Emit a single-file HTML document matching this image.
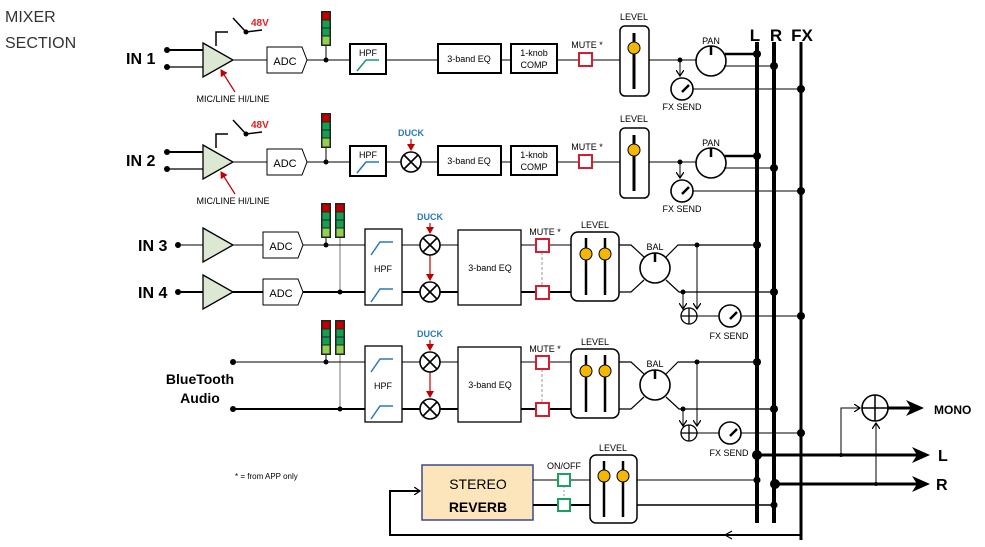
<!DOCTYPE html>
<html><head><meta charset="utf-8"><style>
html,body{margin:0;padding:0;background:#fff;}
svg{display:block;}
text{font-family:"Liberation Sans",sans-serif;}
</style></head><body>
<svg width="985" height="547" viewBox="0 0 985 547" xmlns="http://www.w3.org/2000/svg">
<defs>
<marker id="ah" markerWidth="8" markerHeight="8" refX="6" refY="4" orient="auto" markerUnits="userSpaceOnUse"><path d="M0,0 L6,4 L0,8" fill="none" stroke="#000" stroke-width="1.3"/></marker>
<marker id="ar" markerWidth="8" markerHeight="8" refX="6" refY="4" orient="auto" markerUnits="userSpaceOnUse"><path d="M0,0 L7,4 L0,8 Z" fill="#c00000"/></marker>
<g id="meter"><rect x="0" y="0" width="10" height="35" fill="#222"/><rect x="1.5" y="1.5" width="7" height="7" fill="#c00000"/><rect x="1.5" y="9.5" width="7" height="7" fill="#14a050"/><rect x="1.5" y="17.5" width="7" height="7" fill="#14a050"/><rect x="1.5" y="25.5" width="7" height="8" fill="#92d050"/></g>
<g id="mult"><circle r="10" fill="#fff" stroke="#000" stroke-width="1.6"/><path d="M-7,-7 L7,7 M7,-7 L-7,7" stroke="#000" stroke-width="1.6"/></g>
<g id="sum"><circle r="8" fill="#fff" stroke="#000" stroke-width="1.3"/><path d="M-8,0 H8 M0,-8 V8" stroke="#000" stroke-width="1.3"/></g>
<g id="fxk"><circle r="11" fill="#fff" stroke="#000" stroke-width="1.6"/><path d="M0,3 L7,-4" stroke="#000" stroke-width="2.5"/></g>
<g id="tri"><path d="M0,0 L30,17 L0,34 Z" fill="#dde8d3" stroke="#000" stroke-width="1.3"/></g>
<g id="adc"><path d="M0,0 H35 L40,13 L35,26 H0 Z" fill="#fff" stroke="#000" stroke-width="1"/><text x="18" y="18" font-size="11" text-anchor="middle">ADC</text></g>
</defs>

<g fill="#333" font-size="16"><text x="5" y="22">MIXER</text><text x="5" y="48">SECTION</text></g>

<!-- buses -->
<g stroke="#000" fill="none">
<line x1="757" y1="42" x2="757" y2="523" stroke-width="4"/>
<line x1="774" y1="42" x2="774" y2="523" stroke-width="4"/>
<line x1="801" y1="42" x2="801" y2="540" stroke-width="3"/>
</g>
<g font-size="17" font-weight="bold" text-anchor="middle"><text x="755" y="41">L</text><text x="776" y="41">R</text><text x="802" y="41">FX</text></g>

<!-- ROW 1 & 2 -->
<g id="r1">
<text x="126" y="64" font-size="16" font-weight="bold">IN 1</text>
<g stroke="#000" stroke-width="2" fill="none"><line x1="167" y1="50" x2="203" y2="50"/><line x1="167" y1="67" x2="203" y2="67" stroke-width="1.2"/></g>
<circle cx="167" cy="50" r="3"/><circle cx="167" cy="67" r="3"/>
<use href="#tri" x="203" y="43"/>
<path d="M216,46 V32 H228" stroke="#000" stroke-width="1.5" fill="none"/>
<path d="M233,18 L246,32 L262,30" stroke="#000" stroke-width="1.5" fill="none"/><circle cx="246" cy="32" r="2.5"/>
<text x="251" y="26" font-size="10" font-weight="bold" fill="#e02020">48V</text>
<line x1="235" y1="92" x2="221" y2="70" stroke="#c00000" stroke-width="1.2" marker-end="url(#ar)"/>
<text x="233" y="102" font-size="9" text-anchor="middle">MIC/LINE HI/LINE</text>
<line x1="233" y1="60" x2="267" y2="60" stroke="#000"/>
<use href="#adc" x="267" y="47"/>
<line x1="307" y1="60" x2="350" y2="60" stroke="#000"/>
<use href="#meter" x="321" y="11"/><line x1="326" y1="46" x2="326" y2="60" stroke="#000"/><circle cx="326" cy="60" r="2.5"/>
<rect x="350" y="44" width="36" height="30" fill="#fff" stroke="#000" stroke-width="2"/>
<text x="368" y="56" font-size="9" text-anchor="middle">HPF</text>
<path d="M357,71 L366,60 H379" stroke="#1a9a70" stroke-width="1.6" fill="none"/>
<line x1="386" y1="60" x2="438" y2="60" stroke="#000"/>
<rect x="438" y="44" width="63" height="29" fill="#fff" stroke="#000" stroke-width="2"/>
<text x="469" y="62" font-size="9" text-anchor="middle">3-band EQ</text>
<line x1="501" y1="60" x2="511" y2="60" stroke="#000"/>
<rect x="511" y="44" width="46" height="29" fill="#fff" stroke="#000" stroke-width="2"/>
<text x="534" y="56" font-size="9" text-anchor="middle">1-knob</text><text x="534" y="68" font-size="9" text-anchor="middle">COMP</text>
<line x1="557" y1="60" x2="620" y2="60" stroke="#000"/>
<rect x="579" y="53" width="13" height="13" fill="#fff" stroke="#d02030" stroke-width="2"/>
<text x="587" y="48" font-size="9" text-anchor="middle">MUTE *</text>
<text x="634" y="20" font-size="9" text-anchor="middle">LEVEL</text>
<rect x="620" y="26" width="29" height="70" rx="5" fill="#fff" stroke="#000" stroke-width="1.5"/>
<line x1="634" y1="33" x2="634" y2="89" stroke="#000" stroke-width="3"/>
<circle cx="634" cy="48" r="6" fill="#f5b800" stroke="#000"/>
<line x1="649" y1="60" x2="697" y2="60" stroke="#000"/>
<circle cx="680" cy="60" r="2.5"/>
<line x1="680" y1="60" x2="680" y2="76" stroke="#000" marker-end="url(#ah)"/>
<text x="711" y="44" font-size="9" text-anchor="middle">PAN</text>
<circle cx="711" cy="61" r="15" fill="#fff" stroke="#000" stroke-width="1.6"/>
<line x1="711" y1="46" x2="711" y2="55" stroke="#000" stroke-width="2.5"/>
<line x1="725" y1="54" x2="757" y2="54" stroke="#000" stroke-width="2.5"/><circle cx="757" cy="54" r="4"/>
<line x1="724" y1="66" x2="774" y2="66" stroke="#000"/><circle cx="774" cy="66" r="4"/>
<use href="#fxk" x="682" y="89"/>
<line x1="693" y1="89" x2="801" y2="89" stroke="#000"/><circle cx="801" cy="89" r="4"/>
<text x="682" y="110" font-size="9" text-anchor="middle">FX SEND</text>
</g>
<g transform="translate(0,102)">
<use href="#r1"/>
</g>
<!-- cover row2 IN label & HPF curve adjust, add duck -->
<rect x="120" y="148" width="42" height="24" fill="#fff"/>
<text x="126" y="166" font-size="16" font-weight="bold">IN 2</text>
<rect x="352" y="158" width="32" height="16" fill="#fff"/>
<path d="M357,173 L366,162 H379" stroke="#2a7ab8" stroke-width="1.6" fill="none"/>
<rect x="395" y="125" width="40" height="20" fill="#fff"/>
<rect x="400" y="152" width="22" height="20" fill="#fff"/>
<line x1="387" y1="162" x2="438" y2="162" stroke="#000"/>
<use href="#mult" x="411" y="162"/>
<text x="411" y="136" font-size="9" font-weight="bold" fill="#2a7ab8" text-anchor="middle">DUCK</text>
<line x1="411" y1="139" x2="411" y2="150" stroke="#c00000" stroke-width="1.2" marker-end="url(#ar)"/>

<!-- stereo sections -->
<g id="st">
<use href="#meter" x="321" y="203"/><use href="#meter" x="335" y="203"/>
<line x1="340" y1="238" x2="340" y2="292" stroke="#777"/>
<line x1="326" y1="238" x2="326" y2="245" stroke="#000"/>
<circle cx="326" cy="245" r="2.5"/><circle cx="340" cy="292" r="2.5"/>
<rect x="365" y="229" width="37" height="76" fill="#fff" stroke="#000" stroke-width="1.3"/>
<text x="383" y="272" font-size="9" text-anchor="middle">HPF</text>
<path d="M371,255 L380,242 H393 M371,302 L380,289 H393" stroke="#2a7ab8" stroke-width="1.5" fill="none"/>
<line x1="402" y1="245" x2="458" y2="245" stroke="#000"/><line x1="402" y1="292" x2="458" y2="292" stroke="#000" stroke-width="2"/>
<text x="430" y="220" font-size="9" font-weight="bold" fill="#2a7ab8" text-anchor="middle">DUCK</text>
<line x1="430" y1="223" x2="430" y2="233" stroke="#c00000" stroke-width="1.2" marker-end="url(#ar)"/>
<line x1="430" y1="255" x2="430" y2="280" stroke="#c00000" stroke-width="1.2" marker-end="url(#ar)"/>
<use href="#mult" x="430" y="245"/><use href="#mult" x="430" y="292"/>
<rect x="458" y="230" width="63" height="75" fill="#fff" stroke="#000" stroke-width="1.3"/>
<text x="490" y="271" font-size="9" text-anchor="middle">3-band EQ</text>
<line x1="521" y1="245" x2="571" y2="245" stroke="#000"/><line x1="521" y1="292" x2="571" y2="292" stroke="#000" stroke-width="2"/>
<line x1="542" y1="252" x2="542" y2="286" stroke="#999" stroke-dasharray="3,2"/>
<rect x="536" y="239" width="13" height="13" fill="#fff" stroke="#d02030" stroke-width="2"/>
<rect x="536" y="286" width="13" height="13" fill="#fff" stroke="#d02030" stroke-width="2"/>
<text x="545" y="235" font-size="9" text-anchor="middle">MUTE *</text>
<text x="595" y="228" font-size="9" text-anchor="middle">LEVEL</text>
<rect x="571" y="232" width="48" height="69" rx="7" fill="#fff" stroke="#000" stroke-width="1.5"/>
<line x1="586" y1="238" x2="586" y2="295" stroke="#000" stroke-width="2.5"/><line x1="605" y1="238" x2="605" y2="295" stroke="#000" stroke-width="2.5"/>
<circle cx="586" cy="254" r="6" fill="#f5b800" stroke="#000"/><circle cx="605" cy="254" r="6" fill="#f5b800" stroke="#000"/>
<path d="M619,245 H631 L644,257 M619,292 H631 L644,280 M666,257 L678,245 H757 M666,280 L679,292 H774" stroke="#000" fill="none" stroke-width="1.2"/>
<text x="655" y="250" font-size="9" text-anchor="middle">BAL</text>
<circle cx="655" cy="268" r="15" fill="#fff" stroke="#000" stroke-width="1.6"/>
<line x1="655" y1="253" x2="655" y2="262" stroke="#000" stroke-width="2.5"/>
<circle cx="757" cy="245" r="4"/><circle cx="774" cy="292" r="4"/>
<circle cx="697" cy="245" r="2.5"/><circle cx="683" cy="292" r="2.5"/>
<line x1="697" y1="245" x2="697" y2="309" stroke="#000" marker-end="url(#ah)"/>
<line x1="683" y1="292" x2="683" y2="309" stroke="#000" marker-end="url(#ah)"/>
<use href="#sum" x="689" y="316"/>
<line x1="697" y1="316" x2="801" y2="316" stroke="#000"/><circle cx="801" cy="316" r="4"/>
<use href="#fxk" x="730" y="316"/>
<text x="729" y="339" font-size="9" text-anchor="middle">FX SEND</text>
</g>
<g transform="translate(0,117)"><use href="#st"/></g>

<!-- IN3/IN4 inputs -->
<text x="138" y="251" font-size="16" font-weight="bold">IN 3</text>
<text x="138" y="298" font-size="16" font-weight="bold">IN 4</text>
<circle cx="178" cy="245" r="3"/><circle cx="178" cy="292" r="3"/>
<line x1="178" y1="245" x2="203" y2="245" stroke="#000"/><line x1="178" y1="292" x2="203" y2="292" stroke="#000" stroke-width="2"/>
<use href="#tri" x="203" y="228"/><use href="#tri" x="203" y="275"/>
<line x1="233" y1="245" x2="263" y2="245" stroke="#000"/><line x1="233" y1="292" x2="263" y2="292" stroke="#000" stroke-width="2"/>
<use href="#adc" x="263" y="232"/><use href="#adc" x="263" y="279"/>
<line x1="303" y1="245" x2="365" y2="245" stroke="#000"/><line x1="303" y1="292" x2="365" y2="292" stroke="#000" stroke-width="2"/>

<!-- Bluetooth -->
<circle cx="233" cy="362" r="3"/><circle cx="233" cy="409" r="3"/>
<line x1="233" y1="362" x2="365" y2="362" stroke="#000"/><line x1="233" y1="409" x2="365" y2="409" stroke="#000" stroke-width="2"/>
<text x="200" y="384" font-size="14" font-weight="bold" text-anchor="middle">BlueTooth</text>
<text x="200" y="403" font-size="14" font-weight="bold" text-anchor="middle">Audio</text>

<text x="235" y="479" font-size="8">*  = from APP only</text>

<!-- outputs -->
<line x1="757" y1="455" x2="925" y2="455" stroke="#000" stroke-width="3"/>
<line x1="774" y1="484" x2="925" y2="484" stroke="#000" stroke-width="3"/>
<circle cx="757" cy="455" r="5"/><circle cx="775" cy="484" r="5"/>
<path d="M912,447 L930,455 L912,463 L917,455 Z M912,476 L930,484 L912,492 L917,484 Z M906,400 L924,408 L906,416 L911,408 Z"/>
<text x="938" y="461" font-size="16" font-weight="bold">L</text>
<text x="936" y="490" font-size="16" font-weight="bold">R</text>
<text x="934" y="414" font-size="12" font-weight="bold">MONO</text>
<circle cx="841" cy="455" r="2"/><circle cx="876" cy="484" r="2"/>
<path d="M841,455 V408 H860" stroke="#000" fill="none" marker-end="url(#ah)"/>
<line x1="876" y1="484" x2="876" y2="423" stroke="#000" marker-end="url(#ah)"/>
<circle cx="875" cy="408" r="13" fill="#fff" stroke="#000" stroke-width="1.6"/>
<path d="M862,408 H888 M875,395 V421" stroke="#000" stroke-width="1.5"/>
<line x1="888" y1="408" x2="912" y2="408" stroke="#000" stroke-width="3"/>

<!-- reverb -->
<rect x="422" y="465" width="111" height="55" fill="#fce5bb" stroke="#3b4a8a" stroke-width="1.5"/>
<text x="478" y="489" font-size="14" text-anchor="middle">STEREO</text>
<text x="478" y="512" font-size="14" font-weight="bold" text-anchor="middle">REVERB</text>
<line x1="533" y1="480" x2="590" y2="480" stroke="#000"/><line x1="533" y1="505" x2="590" y2="505" stroke="#000" stroke-width="2"/>
<line x1="564" y1="486" x2="564" y2="499" stroke="#999" stroke-dasharray="2,2"/>
<rect x="558" y="474" width="12" height="12" fill="#fff" stroke="#1aa060" stroke-width="2"/>
<rect x="558" y="499" width="12" height="12" fill="#fff" stroke="#1aa060" stroke-width="2"/>
<text x="564" y="469" font-size="9" text-anchor="middle">ON/OFF</text>
<text x="613" y="451" font-size="9" text-anchor="middle">LEVEL</text>
<rect x="590" y="455" width="47" height="68" rx="6" fill="#fff" stroke="#000" stroke-width="1.5"/>
<line x1="604" y1="461" x2="604" y2="517" stroke="#000" stroke-width="2.5"/><line x1="623" y1="461" x2="623" y2="517" stroke="#000" stroke-width="2.5"/>
<circle cx="604" cy="476" r="6" fill="#f5b800" stroke="#000"/><circle cx="623" cy="476" r="6" fill="#f5b800" stroke="#000"/>
<line x1="637" y1="480" x2="757" y2="480" stroke="#000"/><circle cx="757" cy="480" r="3.5"/>
<line x1="637" y1="505" x2="774" y2="505" stroke="#000" stroke-width="1.5"/><circle cx="774" cy="505" r="3.5"/>
<path d="M801,535 H390 V491 H420" stroke="#000" stroke-width="2" fill="none" marker-end="url(#ah)"/>
<path d="M732,531 L725,535 L732,539" stroke="#000" fill="none" stroke-width="1.2"/>
</svg>
</body></html>
